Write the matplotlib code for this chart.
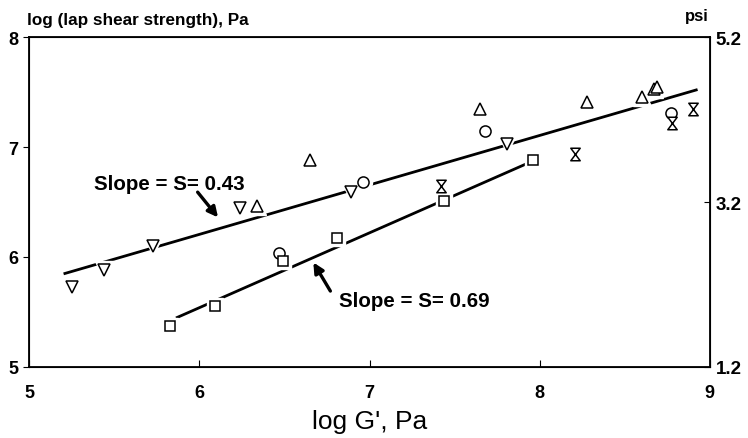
import matplotlib
matplotlib.use("Agg")
import matplotlib.pyplot as plt
from matplotlib.path import Path
import numpy as np

plt.rcParams['font.family'] = ['Liberation Sans', 'DejaVu Sans']

# data (log G', log lap shear strength)
down_x = [5.25, 5.44, 5.73, 6.24, 6.89, 7.81]
down_y = [5.73, 5.88, 6.10, 6.45, 6.59, 7.03]
up_x = [6.34, 6.65, 7.65, 8.28, 8.60, 8.67, 8.69]
up_y = [6.46, 6.88, 7.35, 7.41, 7.46, 7.53, 7.55]
circ_x = [6.47, 6.96, 7.68, 8.77]
circ_y = [6.04, 6.68, 7.15, 7.31]
hour_x = [7.42, 8.21, 8.78, 8.90]
hour_y = [6.65, 6.94, 7.22, 7.35]
sq_x = [5.83, 6.09, 6.49, 6.81, 7.44, 7.96]
sq_y = [5.37, 5.55, 5.96, 6.17, 6.51, 6.88]

# fitted lines
fit1_x = [5.21, 8.92]
fit1_y = [5.85, 7.52]
fit2_x = [5.87, 7.94]
fit2_y = [5.45, 6.86]

xticks = [5, 6, 7, 8, 9]
yticks = [5, 6, 7, 8]
psi_ticks = [1.2, 3.2, 5.2]

hourglass = Path([(-0.75, 1), (0.75, 1), (-0.75, -1), (0.75, -1), (-0.75, 1)],
                 [Path.MOVETO, Path.LINETO, Path.LINETO, Path.LINETO, Path.CLOSEPOLY])

fig = plt.figure(figsize=(7.48, 4.39), dpi=100)
ax = fig.add_axes([0.039, 0.162, 0.910, 0.751])

ax.plot(fit1_x, fit1_y, color='black', lw=2.0, zorder=1)
ax.plot(fit2_x, fit2_y, color='black', lw=2.0, zorder=1)

series = [
    (down_x, down_y, 'v', 8),
    (up_x, up_y, '^', 8),
    (circ_x, circ_y, 'o', 8),
    (hour_x, hour_y, hourglass, 9),
    (sq_x, sq_y, 's', 7),
]
for xs, ys, m, ms in series:
    # white halo breaks the fitted lines around each marker
    ax.plot(xs, ys, ls='none', marker=m, ms=ms + 5, mfc='white', mec='white', zorder=2)
for xs, ys, m, ms in series:
    ax.plot(xs, ys, ls='none', marker=m, ms=ms, mfc='white', mec='black', mew=1.1, zorder=3)

ax.set_xlim(5, 9)
ax.set_ylim(5, 8)
ax.set_xticks(xticks)
ax.set_yticks(yticks)
ax.tick_params(axis='x', direction='in', length=5, labelsize=13, pad=12)
ax.tick_params(axis='y', direction='out', length=4, labelsize=13, pad=4)
for lab in ax.get_xticklabels() + ax.get_yticklabels():
    lab.set_fontweight('bold')
for sp in ax.spines.values():
    sp.set_linewidth(1.3)

ax2 = ax.twinx()
ax2.set_ylim(1.2, 5.2)
ax2.set_yticks(psi_ticks)
ax2.tick_params(axis='y', direction='in', length=4, labelsize=13.5, pad=4)
for lab in ax2.get_yticklabels():
    lab.set_fontweight('bold')

fig.text(0.036, 0.953, 'log (lap shear strength), Pa', fontsize=12.3,
         fontweight='bold', ha='left', va='center')
fig.text(0.947, 0.962, 'psi', fontsize=12, fontweight='bold', ha='right', va='center')
ax.set_xlabel("log G', Pa", fontsize=19, labelpad=6)

ax.text(5.38, 6.67, 'Slope = S= 0.43', fontsize=14.8, fontweight='bold',
        va='center', ha='left')
ax.annotate('', xy=(6.11, 6.36), xytext=(5.99, 6.59),
            arrowprops=dict(arrowstyle='-|>', color='black', lw=2.4,
                            mutation_scale=15, shrinkA=0, shrinkB=0))
ax.text(6.82, 5.6, 'Slope = S= 0.69', fontsize=14.8, fontweight='bold',
        va='center', ha='left')
ax.annotate('', xy=(6.67, 5.95), xytext=(6.77, 5.69),
            arrowprops=dict(arrowstyle='-|>', color='black', lw=2.4,
                            mutation_scale=15, shrinkA=0, shrinkB=0))

fig.savefig('out.png', dpi=100)
